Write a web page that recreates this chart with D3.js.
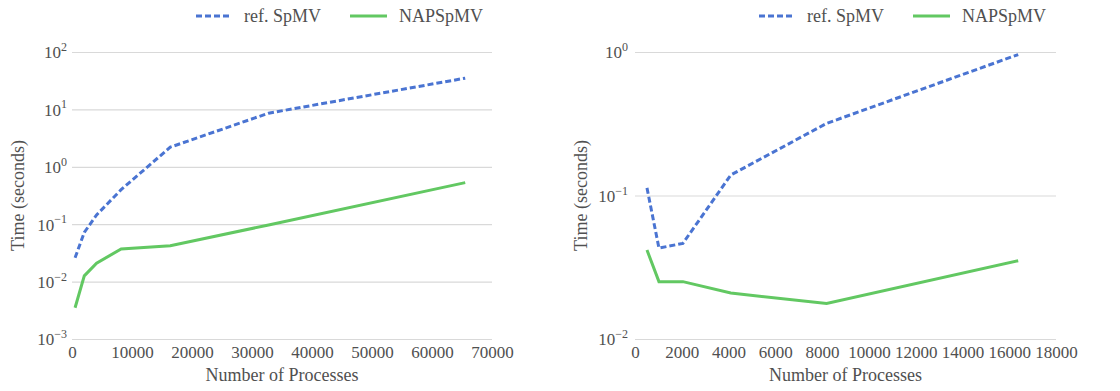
<!DOCTYPE html>
<html>
<head>
<meta charset="utf-8">
<script src="https://cdn.jsdelivr.net/npm/d3@7"></script>
<style>
  body { margin: 0; background: #fff; }
  .grid line { stroke: #d9d9d9; stroke-width: 1.2; }
</style>
</head>
<body>
<div id="chart"></div>
<script>
// left panel: up to 65536 processes
const procsLeft = [512, 2048, 4096, 8192, 16384, 32768, 65536];
const refLeft   = [0.026, 0.072, 0.145, 0.40, 2.2, 8.6, 35];
const napLeft   = [0.0035, 0.0126, 0.021, 0.037, 0.042, 0.097, 0.53];

// right panel: up to 16384 processes
const procsRight = [512, 1024, 2048, 4096, 8192, 16384];
const refRight   = [0.113, 0.043, 0.0464, 0.139, 0.318, 0.96];
const napRight   = [0.0417, 0.0251, 0.0251, 0.0209, 0.0177, 0.0351];

const xTicksLeft  = [0, 10000, 20000, 30000, 40000, 50000, 60000, 70000];
const xTicksRight = [0, 2000, 4000, 6000, 8000, 10000, 12000, 14000, 16000, 18000];
const seriesNames = ["ref. SpMV", "NAPSpMV"];

const width = 1120, height = 391;
const blue = "#4a74d2", green = "#62c862";
const serif = "'Liberation Serif', 'DejaVu Serif', serif";

const svg = d3.select("#chart")
  .append("svg")
    .attr("width", width)
    .attr("height", height);

function drawPanel(opt) {
  const x = d3.scaleLinear().domain(opt.xDomain).range(opt.xRange);
  const y = d3.scaleLog().domain(opt.yDomain).range([339, 52]);
  const g = svg.append("g");

  // y grid + labels
  const exps = d3.range(Math.log10(opt.yDomain[0]), Math.log10(opt.yDomain[1]) + 1);
  const yTicks = exps.map(e => Math.pow(10, e));
  g.append("g")
    .attr("class", "grid")
    .attr("transform", `translate(${opt.xRange[0]},0)`)
    .call(d3.axisLeft(y).tickValues(yTicks).tickSize(-(opt.xRange[1] - opt.xRange[0])).tickFormat(""))
    .call(a => a.select(".domain").remove());

  const yl = g.append("g").selectAll("text")
    .data(exps)
    .join("text")
      .attr("x", opt.xRange[0] - opt.yPad)
      .attr("y", e => y(Math.pow(10, e)))
      .attr("text-anchor", "end")
      .style("font-size", "17px");
  yl.append("tspan").attr("dy", "0.38em").text("10");
  yl.append("tspan")
    .attr("dy", "-0.62em")
    .style("font-size", "12px")
    .text(e => e < 0 ? "\u2212" + (-e) : e);

  // x axis
  g.append("g")
    .attr("transform", "translate(0,339)")
    .call(d3.axisBottom(x).tickValues(opt.xTicks).tickSize(0).tickPadding(7).tickFormat(d3.format("d")))
    .call(a => a.select(".domain").remove())
    .call(a => a.selectAll("text").style("font-size", "17px"));

  // axis titles
  g.append("text")
    .attr("x", (opt.xRange[0] + opt.xRange[1]) / 2)
    .attr("y", 381)
    .attr("text-anchor", "middle")
    .style("font-size", "18px")
    .text("Number of Processes");

  g.append("text")
    .attr("transform", `translate(${opt.yTitleX},195.5) rotate(-90)`)
    .attr("text-anchor", "middle")
    .style("font-size", "18px")
    .text("Time (seconds)");

  // lines
  const line = d3.line()
    .x(d => x(d[0]))
    .y(d => y(d[1]));

  g.append("path")
    .datum(opt.procs.map((p, i) => [p, opt.nap[i]]))
    .attr("d", line)
    .attr("fill", "none")
    .attr("stroke", green)
    .attr("stroke-width", 3);

  g.append("path")
    .datum(opt.procs.map((p, i) => [p, opt.ref[i]]))
    .attr("d", line)
    .attr("fill", "none")
    .attr("stroke", blue)
    .attr("stroke-width", 3)
    .attr("stroke-dasharray", "6,3");

  // legend
  const lg = g.append("g").attr("transform", `translate(${opt.legendX},16)`);
  lg.append("line")
    .attr("x1", 0).attr("x2", 34).attr("y1", 0).attr("y2", 0)
    .attr("stroke", blue).attr("stroke-width", 3).attr("stroke-dasharray", "6,3");
  lg.append("text").attr("x", 48).attr("y", 0).attr("dy", "0.32em")
    .style("font-size", "18px").text(seriesNames[0]);
  lg.append("line")
    .attr("x1", 154).attr("x2", 191).attr("y1", 0).attr("y2", 0)
    .attr("stroke", green).attr("stroke-width", 3);
  lg.append("text").attr("x", 203).attr("y", 0).attr("dy", "0.32em")
    .style("font-size", "18px").text(seriesNames[1]);
}

drawPanel({
  procs: procsLeft, ref: refLeft, nap: napLeft,
  xDomain: [0, 70000], xRange: [72, 492], xTicks: xTicksLeft,
  yDomain: [1e-3, 1e2], yPad: 5, yTitleX: 24, legendX: 196
});

drawPanel({
  procs: procsRight, ref: refRight, nap: napRight,
  xDomain: [0, 18000], xRange: [635, 1056], xTicks: xTicksRight,
  yDomain: [1e-2, 1e0], yPad: 7, yTitleX: 587, legendX: 759
});

// same serif face and grey everywhere
svg.selectAll("text")
  .style("font-family", serif)
  .attr("fill", "#505050");
</script>
</body>
</html>
